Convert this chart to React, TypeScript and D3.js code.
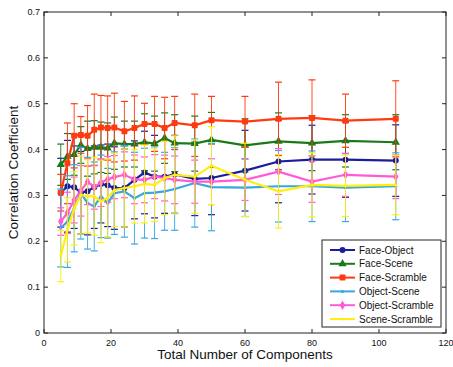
import { useEffect, useRef } from 'react';
import * as d3 from 'd3';

const xs = [5, 7, 9, 11, 13, 15, 17, 19, 21, 24, 27, 30, 33, 36, 39, 45, 50, 60, 70, 80, 90, 105];

const faceObject = [0.306, 0.32, 0.318, 0.306, 0.309, 0.318, 0.325, 0.322, 0.316, 0.316, 0.334, 0.35, 0.341, 0.341, 0.346, 0.336, 0.338, 0.354, 0.374, 0.378, 0.378, 0.376];
const faceObjectErr = [0.075, 0.1, 0.09, 0.09, 0.095, 0.09, 0.085, 0.09, 0.09, 0.085, 0.085, 0.09, 0.09, 0.08, 0.085, 0.08, 0.08, 0.088, 0.09, 0.075, 0.082, 0.078];

const faceScene = [0.367, 0.385, 0.389, 0.41, 0.402, 0.405, 0.405, 0.403, 0.414, 0.412, 0.412, 0.416, 0.413, 0.425, 0.414, 0.413, 0.421, 0.409, 0.418, 0.414, 0.419, 0.416];
const faceSceneErr = [0.045, 0.05, 0.045, 0.04, 0.06, 0.058, 0.055, 0.055, 0.057, 0.05, 0.05, 0.062, 0.06, 0.055, 0.062, 0.06, 0.06, 0.058, 0.062, 0.06, 0.057, 0.06];

const faceScramble = [0.306, 0.37, 0.43, 0.432, 0.43, 0.443, 0.448, 0.447, 0.448, 0.44, 0.447, 0.456, 0.456, 0.447, 0.458, 0.453, 0.464, 0.461, 0.467, 0.469, 0.463, 0.467];
const faceScrambleErr = [0.04, 0.088, 0.07, 0.04, 0.066, 0.078, 0.07, 0.07, 0.075, 0.065, 0.07, 0.045, 0.06, 0.067, 0.058, 0.068, 0.052, 0.055, 0.08, 0.083, 0.058, 0.083];

const objectScene = [0.229, 0.243, 0.272, 0.305, 0.283, 0.276, 0.298, 0.283, 0.305, 0.309, 0.294, 0.305, 0.306, 0.309, 0.314, 0.327, 0.318, 0.317, 0.32, 0.32, 0.317, 0.32];
const objectSceneErr = [0.085, 0.1, 0.095, 0.1, 0.1, 0.097, 0.09, 0.076, 0.09, 0.1, 0.1, 0.098, 0.1, 0.085, 0.09, 0.096, 0.095, 0.063, 0.078, 0.077, 0.074, 0.073];

const objectScramble = [0.243, 0.262, 0.29, 0.31, 0.33, 0.318, 0.328, 0.335, 0.34, 0.345, 0.335, 0.334, 0.341, 0.338, 0.334, 0.33, 0.33, 0.334, 0.352, 0.33, 0.345, 0.341];
const objectScrambleErr = [0.03, 0.045, 0.05, 0.055, 0.05, 0.048, 0.052, 0.05, 0.047, 0.05, 0.053, 0.05, 0.048, 0.05, 0.052, 0.047, 0.05, 0.045, 0.05, 0.045, 0.047, 0.048];

const sceneScramble = [0.168, 0.225, 0.272, 0.301, 0.298, 0.298, 0.287, 0.295, 0.312, 0.316, 0.32, 0.325, 0.323, 0.338, 0.345, 0.341, 0.365, 0.334, 0.309, 0.323, 0.321, 0.323];
const sceneScrambleErr = [0.056, 0.07, 0.08, 0.085, 0.08, 0.085, 0.09, 0.085, 0.08, 0.085, 0.08, 0.085, 0.08, 0.08, 0.085, 0.08, 0.085, 0.08, 0.08, 0.07, 0.067, 0.065];

const xTicks = [0, 20, 40, 60, 80, 100, 120];
const yTicks = [0, 0.1, 0.2, 0.3, 0.4, 0.5, 0.6, 0.7];

type Marker = 'circle' | 'triangle' | 'square' | 'dot' | 'diamond';

const series: { name: string; color: string; marker: Marker; values: number[]; errs: number[] }[] = [
  { name: 'Face-Object', color: '#1c1c9c', marker: 'circle', values: faceObject, errs: faceObjectErr },
  { name: 'Face-Scene', color: '#1a7a1a', marker: 'triangle', values: faceScene, errs: faceSceneErr },
  { name: 'Face-Scramble', color: '#ff3a10', marker: 'square', values: faceScramble, errs: faceScrambleErr },
  { name: 'Object-Scene', color: '#35a8e0', marker: 'dot', values: objectScene, errs: objectSceneErr },
  { name: 'Object-Scramble', color: '#ff5ad8', marker: 'diamond', values: objectScramble, errs: objectScrambleErr },
  { name: 'Scene-Scramble', color: '#ffee10', marker: 'dot', values: sceneScramble, errs: sceneScrambleErr },
];

const FONT = '"Liberation Sans", Arial, sans-serif';

function drawMarker(g: d3.Selection<SVGGElement, unknown, null, undefined>, m: Marker, cx: number, cy: number, color: string) {
  if (m === 'circle') {
    g.append('circle').attr('cx', cx).attr('cy', cy).attr('r', 3).attr('fill', color);
  } else if (m === 'dot') {
    g.append('circle').attr('cx', cx).attr('cy', cy).attr('r', 1.5).attr('fill', color);
  } else if (m === 'square') {
    g.append('rect').attr('x', cx - 3).attr('y', cy - 3).attr('width', 6).attr('height', 6)
      .attr('rx', 1).attr('fill', color);
  } else {
    const type = m === 'triangle' ? d3.symbolTriangle : d3.symbolDiamond;
    const size = m === 'triangle' ? 30 : 26;
    g.append('path')
      .attr('transform', `translate(${cx},${cy})`)
      .attr('d', d3.symbol().type(type).size(size)() as string)
      .attr('fill', color);
  }
}

export default function App() {
  const svgRef = useRef<SVGSVGElement>(null);

  useEffect(() => {
    const svg = d3.select(svgRef.current);
    if (!svg.node()) return;
    svg.selectAll('*').remove();

    const margin = { top: 12, right: 7, bottom: 34, left: 44 };
    const width = 453;
    const height = 367;

    const x = d3.scaleLinear().domain([0, 120]).range([margin.left, width - margin.right]);
    const y = d3.scaleLinear().domain([0, 0.7]).range([height - margin.bottom, margin.top]);

    svg.append('rect').attr('width', width).attr('height', height).attr('fill', '#fff');

    const plot = svg.append('g');

    series.forEach((s) => {
      const g = plot.append('g');
      s.values.forEach((v, i) => {
        const cx = x(xs[i]);
        const lo = y(v - s.errs[i]);
        const hi = y(v + s.errs[i]);
        g.append('line').attr('x1', cx).attr('x2', cx).attr('y1', lo).attr('y2', hi)
          .attr('stroke', s.color).attr('stroke-width', 0.9);
        [lo, hi].forEach((yy) => {
          g.append('line').attr('x1', cx - 3.5).attr('x2', cx + 3.5).attr('y1', yy).attr('y2', yy)
            .attr('stroke', s.color).attr('stroke-width', 1.2);
        });
      });
      const line = d3.line<number>().x((_, i) => x(xs[i])).y((v) => y(v));
      g.append('path').attr('d', line(s.values) as string)
        .attr('fill', 'none').attr('stroke', s.color).attr('stroke-width', 2.2);
      s.values.forEach((v, i) => drawMarker(g, s.marker, x(xs[i]), y(v), s.color));
    });

    // frame + inward ticks
    const x0 = margin.left, x1 = width - margin.right, y0 = height - margin.bottom, y1 = margin.top;
    svg.append('rect').attr('x', x0).attr('y', y1).attr('width', x1 - x0).attr('height', y0 - y1)
      .attr('fill', 'none').attr('stroke', '#222').attr('stroke-width', 1);

    const ax = svg.append('g').attr('stroke', '#222').attr('stroke-width', 1);
    xTicks.forEach((t) => {
      ax.append('line').attr('x1', x(t)).attr('x2', x(t)).attr('y1', y0).attr('y2', y0 - 4);
      ax.append('line').attr('x1', x(t)).attr('x2', x(t)).attr('y1', y1).attr('y2', y1 + 4);
    });
    yTicks.forEach((t) => {
      ax.append('line').attr('x1', x0).attr('x2', x0 + 4).attr('y1', y(t)).attr('y2', y(t));
      ax.append('line').attr('x1', x1).attr('x2', x1 - 4).attr('y1', y(t)).attr('y2', y(t));
    });

    const labels = svg.append('g').attr('font-family', FONT).attr('fill', '#111');
    xTicks.forEach((t) => {
      labels.append('text').attr('x', x(t)).attr('y', y0 + 13).attr('text-anchor', 'middle')
        .attr('font-size', 9).text(String(t));
    });
    yTicks.forEach((t) => {
      labels.append('text').attr('x', x0 - 4).attr('y', y(t) + 3).attr('text-anchor', 'end')
        .attr('font-size', 9).text(t === 0 ? '0' : d3.format('.1f')(t));
    });

    labels.append('text').attr('x', (x0 + x1) / 2).attr('y', height - 8).attr('text-anchor', 'middle')
      .attr('font-size', 13.5).text('Total Number of Components');
    labels.append('text').attr('transform', `translate(18,${(y0 + y1) / 2}) rotate(-90)`)
      .attr('text-anchor', 'middle').attr('font-size', 13.5).text('Correlation Coefficient');

    // legend
    const lg = svg.append('g');
    const lx = 322, ly = 240, lw = 119, lh = 87;
    lg.append('rect').attr('x', lx).attr('y', ly).attr('width', lw).attr('height', lh)
      .attr('fill', '#fff').attr('stroke', '#222').attr('stroke-width', 1);
    series.forEach((s, i) => {
      const yy = ly + 10 + i * 13.8;
      lg.append('line').attr('x1', lx + 8).attr('x2', lx + 33).attr('y1', yy).attr('y2', yy)
        .attr('stroke', s.color).attr('stroke-width', 2);
      drawMarker(lg, s.marker, lx + 20.5, yy, s.color);
      lg.append('text').attr('x', lx + 37).attr('y', yy + 3.5).attr('font-family', FONT)
        .attr('font-size', 10).attr('fill', '#111').text(s.name);
    });
  }, []);

  return (
    <svg
      ref={svgRef}
      width={453}
      height={367}
      style={{ position: 'absolute', left: 0, top: 0 }}
    />
  );
}
